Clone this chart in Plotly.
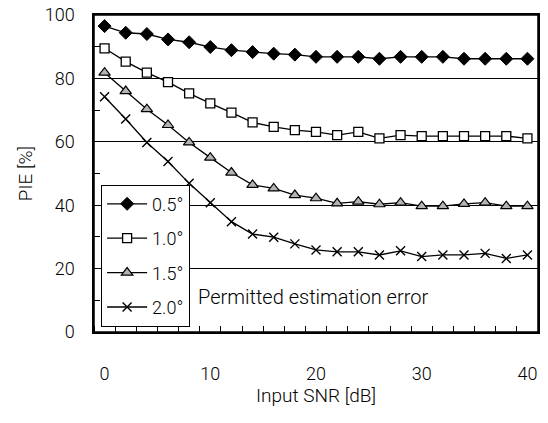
import plotly.graph_objects as go

snr = list(range(0, 41, 2))

pie_05 = [96.5, 94.4, 94.0, 92.3, 91.4, 89.9, 88.9, 88.3, 87.8, 87.5, 86.8,
          86.8, 86.8, 86.2, 86.8, 86.8, 86.8, 86.2, 86.2, 86.2, 86.2]
pie_10 = [89.5, 85.3, 81.8, 78.8, 75.3, 72.1, 69.2, 66.1, 64.7, 63.7, 63.1,
          62.1, 63.1, 61.1, 62.1, 61.8, 61.8, 61.8, 61.8, 61.8, 61.1]
pie_15 = [81.8, 76.0, 70.3, 65.3, 59.8, 55.0, 50.3, 46.4, 45.3, 43.2, 42.2,
          40.6, 41.1, 40.3, 40.8, 39.7, 39.7, 40.4, 40.8, 39.7, 39.7]
pie_20 = [74.2, 67.2, 59.8, 53.8, 46.9, 40.8, 34.8, 30.9, 29.9, 27.8, 25.9,
          25.3, 25.3, 24.3, 25.6, 23.8, 24.3, 24.3, 24.8, 23.2, 24.3]

names = ["0.5°", "1.0°", "1.5°", "2.0°"]
FONT = "Roboto"
WEIGHT = 300

styles = [
    dict(symbol="diamond", size=10, color="black", line=dict(color="black", width=1)),
    dict(symbol="square", size=9, color="white", line=dict(color="black", width=1.3)),
    dict(symbol="triangle-up", size=10, color="#b4b4b4", line=dict(color="black", width=1.2)),
    dict(symbol="x-thin", size=9, color="black", line=dict(color="black", width=1.4)),
]

fig = go.Figure()
for i, (name, vals) in enumerate(zip(names, [pie_05, pie_10, pie_15, pie_20])):
    fig.add_trace(go.Scatter(
        x=snr, y=vals, name=name, mode="lines+markers",
        line=dict(color="black", width=1.3),
        marker=styles[i], legendgroup=name,
    ))

fig.add_annotation(
    x=0.23, y=0.11, xref="paper", yref="paper", xanchor="left", yanchor="middle",
    text="Permitted estimation error", showarrow=False,
    font=dict(family=FONT, size=20, color="black", weight=WEIGHT),
)

# frame round the plot area
fig.add_shape(type="rect", xref="paper", yref="paper", x0=0, y0=0, x1=1, y1=1,
              line=dict(color="black", width=1.5), layer="above")

fig.update_layout(
    width=548, height=423,
    margin=dict(l=94, r=10, t=15, b=91),
    plot_bgcolor="white", paper_bgcolor="white",
    font=dict(family=FONT, size=18, color="black", weight=WEIGHT),
    legend=dict(
        x=0.016, y=0.465, xanchor="left", yanchor="top",
        bgcolor="white", bordercolor="black", borderwidth=1,
        font=dict(family=FONT, size=18, weight=WEIGHT), tracegroupgap=8,
        itemwidth=40,
    ),
    xaxis=dict(
        range=[-1, 41], tickvals=[0, 10, 20, 30, 40], ticks="",
        showgrid=False, zeroline=False, automargin=False,
        showline=True, linecolor="black", linewidth=1.5, mirror=True,
        minor=dict(tick0=-1, dtick=2, ticks="inside", ticklen=6,
                   tickcolor="black", showgrid=False),
        ticklabelstandoff=25,
        title=dict(text="Input SNR [dB]", standoff=1, font=dict(size=19)),
    ),
    yaxis=dict(
        range=[0, 100], dtick=20, ticks="inside", ticklen=6, tickcolor="black",
        showgrid=True, gridcolor="black", gridwidth=1, zeroline=False,
        showline=True, linecolor="black", linewidth=1.5, mirror=True,
        automargin=False,
        minor=dict(dtick=10, ticks="inside", ticklen=6, tickcolor="black",
                   showgrid=False),
        ticklabelstandoff=14,
        title=dict(text="PIE [%]", standoff=7, font=dict(size=19)),
    ),
)

# drop the browser's default body margin so the figure sits at the window origin
fig.write_html(
    "out.html",
    config={"displayModeBar": False},
    post_script="document.body.style.margin='0';",
)
